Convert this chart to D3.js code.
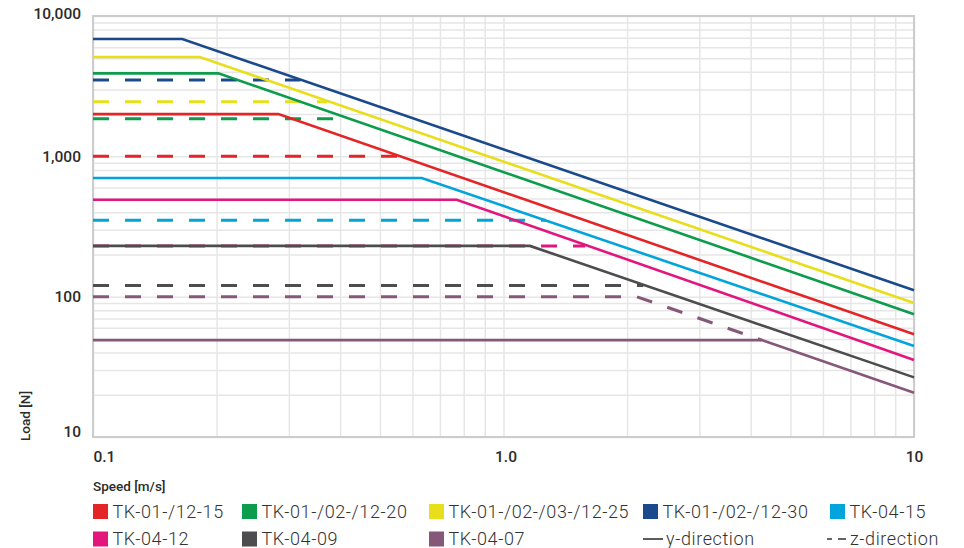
<!DOCTYPE html>
<html>
<head>
<meta charset="utf-8">
<script src="https://cdn.jsdelivr.net/npm/d3@7/dist/d3.min.js"></script>
<style>
  html, body { margin: 0; padding: 0; background: #fff; }
  svg { display: block; }
</style>
</head>
<body>
<svg id="chart" width="964" height="548"></svg>
<script>
// Series names and colours
const seriesNames = ["TK-01-/12-15", "TK-01-/02-/12-20", "TK-01-/02-/03-/12-25", "TK-01-/02-/12-30",
                     "TK-04-15", "TK-04-12", "TK-04-09", "TK-04-07"];
const seriesColors = ["#e42528", "#0c9c4b", "#e8de1a", "#1b4a8c", "#02a5db", "#e2167d", "#4d4d4f", "#85587a"];

// y-direction: constant load [N], speed where it starts to decline [m/s], load at 10 m/s [N]
const yFlatLoad  = [2000, 3900, 5100, 6850, 700, 490, 230, 49];
const yKneeSpeed = [0.283, 0.202, 0.182, 0.165, 0.632, 0.769, 1.16, 4.26];
const yEndLoad   = [54, 75, 90, 111, 44.5, 35.4, 26.6, 20.7];

// z-direction: constant load [N] and the speed where the dashed line stops
const zFlatLoad  = [1000, 1850, 2450, 3500, 350, 230, 120, 100];
const zKneeSpeed = [0.553, 0.39, 0.372, 0.32, 1.27, 1.58, 2.19, 2.11];
// declining z part (only TK-04-07): end speed and end load
const zTailSpeed = [null, null, null, null, null, null, null, 4.26];
const zTailLoad  = [null, null, null, null, null, null, null, 49];

// Axis ticks
const xTickValues = [0.1, 1, 10];
const xTickLabels = ["0.1", "1.0", "10"];
const yTickValues = [10, 100, 1000, 10000];
const yTickLabels = ["10", "100", "1,000", "10,000"];

const minSpeed = 0.1, maxSpeed = 10;

const svg = d3.select("#chart");
const plot = { left: 93, right: 914, top: 16, bottom: 437 };

const x = d3.scaleLog().domain([minSpeed, maxSpeed]).range([plot.left, plot.right]);
const y = d3.scaleLog().domain([10, 10000]).range([plot.bottom, plot.top]);

const gridColor = "#e6e6e6";
const frameColor = "#cccccc";
const textColor = "#2b2b2b";

// Grid lines (log minor + major)
const xGrid = svg.append("g")
  .attr("transform", `translate(0,${plot.bottom})`)
  .call(d3.axisBottom(x).tickValues(x.ticks()).tickSize(-(plot.bottom - plot.top)).tickFormat(""));
const yGrid = svg.append("g")
  .attr("transform", `translate(${plot.left},0)`)
  .call(d3.axisLeft(y).tickValues(y.ticks()).tickSize(-(plot.right - plot.left)).tickFormat(""));
[xGrid, yGrid].forEach(g => {
  g.select(".domain").remove();
  g.selectAll(".tick line").attr("stroke", gridColor).attr("stroke-width", 1.5);
});

// Frame
svg.append("rect")
  .attr("x", plot.left).attr("y", plot.top)
  .attr("width", plot.right - plot.left).attr("height", plot.bottom - plot.top)
  .attr("fill", "none").attr("stroke", frameColor).attr("stroke-width", 2);

// Tick labels
const tickFont = "Roboto, 'Liberation Sans', Arial, sans-serif";
const yAxis = svg.append("g")
  .attr("transform", `translate(${plot.left},0)`)
  .call(d3.axisLeft(y).tickValues(yTickValues).tickSize(0).tickPadding(12)
        .tickFormat((d, i) => yTickLabels[i]));
yAxis.select(".domain").remove();
yAxis.selectAll("text")
  .attr("font-family", tickFont).attr("font-weight", 500).attr("font-size", 15.5)
  .attr("fill", textColor)
  .attr("y", d => d === 10 ? -5 : (d === 10000 ? -2 : 0));

const xAxis = svg.append("g")
  .attr("transform", `translate(0,${plot.bottom})`)
  .call(d3.axisBottom(x).tickValues(xTickValues).tickSize(0).tickPadding(14)
        .tickFormat((d, i) => xTickLabels[i]));
xAxis.select(".domain").remove();
xAxis.selectAll("text")
  .attr("font-family", tickFont).attr("font-weight", 500).attr("font-size", 15.5)
  .attr("fill", textColor)
  .attr("text-anchor", d => d === minSpeed ? "start" : "middle")
  .attr("x", d => d === 1 ? 2 : 0);

// Axis titles
svg.append("text")
  .attr("transform", `translate(30,441) rotate(-90)`)
  .attr("font-family", tickFont).attr("font-weight", 500).attr("font-size", 13.5)
  .attr("fill", textColor).text("Load [N]");
svg.append("text")
  .attr("x", plot.left).attr("y", 491)
  .attr("font-family", tickFont).attr("font-weight", 500).attr("font-size", 13.5)
  .attr("fill", textColor).text("Speed [m/s]");

// Curves
const line = d3.line().x(d => x(d[0])).y(d => y(d[1]));
const curves = svg.append("g").attr("fill", "none").attr("stroke-linejoin", "miter");

// z-direction (dashed) first, y-direction (solid) on top
seriesNames.forEach((name, i) => {
  const pts = [[minSpeed, zFlatLoad[i]], [zKneeSpeed[i], zFlatLoad[i]]];
  if (zTailSpeed[i] != null) pts.push([zTailSpeed[i], zTailLoad[i]]);
  curves.append("path")
    .attr("d", line(pts))
    .attr("stroke", seriesColors[i])
    .attr("stroke-width", 3)
    .attr("stroke-dasharray", "16,16");
});
seriesNames.forEach((name, i) => {
  const pts = [[minSpeed, yFlatLoad[i]], [yKneeSpeed[i], yFlatLoad[i]], [maxSpeed, yEndLoad[i]]];
  curves.append("path")
    .attr("d", line(pts))
    .attr("stroke", seriesColors[i])
    .attr("stroke-width", 2.6);
});

// Legend
const legendFont = "Roboto, 'Liberation Sans', Arial, sans-serif";
const legendCols = [93, 242, 429, 643, 830];
const legendRows = [511.5, 539];
const legend = svg.append("g")
  .attr("font-family", legendFont).attr("font-weight", 300).attr("font-size", 18)
  .attr("letter-spacing", 0.6)
  .attr("fill", "#333");

seriesNames.forEach((name, i) => {
  const cx = legendCols[i % 5];
  const cy = legendRows[Math.floor(i / 5)];
  legend.append("rect")
    .attr("x", cx).attr("y", cy - 7.5).attr("width", 15).attr("height", 15)
    .attr("fill", seriesColors[i]);
  legend.append("text")
    .attr("x", cx + 19.5).attr("y", cy).attr("dy", "0.36em").text(name);
});

// Line style keys
legend.append("line")
  .attr("x1", legendCols[3]).attr("x2", legendCols[3] + 20)
  .attr("y1", legendRows[1]).attr("y2", legendRows[1])
  .attr("stroke", "#333").attr("stroke-width", 1.6);
legend.append("text")
  .attr("x", legendCols[3] + 23).attr("y", legendRows[1]).attr("dy", "0.36em").text("y-direction");
legend.append("line")
  .attr("x1", legendCols[4] - 3).attr("x2", legendCols[4] + 16)
  .attr("y1", legendRows[1]).attr("y2", legendRows[1])
  .attr("stroke", "#333").attr("stroke-width", 1.6)
  .attr("stroke-dasharray", "5,6,8");
legend.append("text")
  .attr("x", legendCols[4] + 20).attr("y", legendRows[1]).attr("dy", "0.36em").text("z-direction");
</script>
</body>
</html>
